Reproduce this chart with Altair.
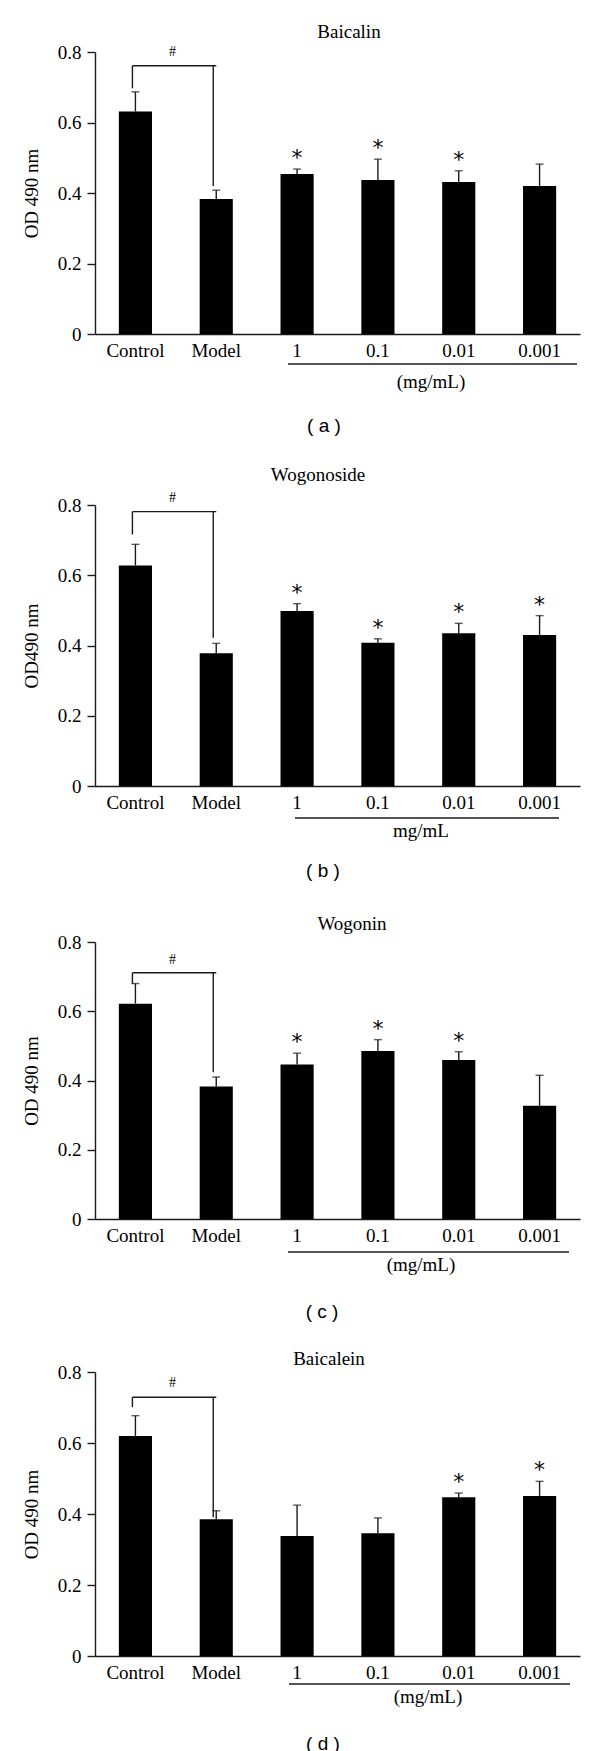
import altair as alt
import pandas as pd

# ---------------- data ----------------
categories = ["Control", "Model", "1", "0.1", "0.01", "0.001"]

panel_titles = ["Baicalin", "Wogonoside", "Wogonin", "Baicalein"]
panel_letters = ["( a )", "( b )", "( c )", "( d )"]
y_titles = ["OD 490 nm", "OD490 nm", "OD 490 nm", "OD 490 nm"]
unit_labels = ["(mg/mL)", "mg/mL", "(mg/mL)", "(mg/mL)"]

baicalin_mean = [0.631, 0.383, 0.454, 0.437, 0.431, 0.420]
baicalin_sd = [0.056, 0.025, 0.014, 0.059, 0.032, 0.062]
baicalin_star = [False, False, True, True, True, False]

wogonoside_mean = [0.628, 0.378, 0.498, 0.408, 0.435, 0.430]
wogonoside_sd = [0.060, 0.028, 0.021, 0.011, 0.028, 0.055]
wogonoside_star = [False, False, True, True, True, True]

wogonin_mean = [0.622, 0.383, 0.446, 0.485, 0.459, 0.327]
wogonin_sd = [0.058, 0.027, 0.033, 0.033, 0.024, 0.088]
wogonin_star = [False, False, True, True, True, False]

baicalein_mean = [0.620, 0.385, 0.338, 0.346, 0.447, 0.451]
baicalein_sd = [0.057, 0.024, 0.087, 0.043, 0.012, 0.041]
baicalein_star = [False, False, False, False, True, True]

# bracket (Control vs Model): level, left end, right end, "#" level
bracket_level = [0.761, 0.781, 0.711, 0.729]
bracket_left_end = [0.697, 0.716, 0.680, 0.701]
bracket_right_end = [0.420, 0.422, 0.424, 0.391]
hash_level = [0.800, 0.820, 0.747, 0.770]

# ---------------- layout / style ----------------
W = 485
heights = [282, 281, 277, 284]
SERIF = "Liberation Serif"
SANS = "Liberation Sans"
INK = "#1a1a1a"

# positions of the annotation texts, relative to each plot's top-left corner
title_xy = [(254, -20), (223, -30), (257, -18), (234, -13)]
unit_xy = [(336, 330), (326, 326), (326, 323), (333, 325)]
underline_x = [(193, 482), (200, 464), (193, 474), (194, 475)]
underline_y = [312, 313, 310, 312]
letter_xy = [(229, 374), (228, 366), (227, 370), (228, 372)]
# extent of every panel's frame (above / below the plot top)
frame_top = 43
frame_bottom = [408, 392, 385, 384]

series = [
    (baicalin_mean, baicalin_sd, baicalin_star),
    (wogonoside_mean, wogonoside_sd, wogonoside_star),
    (wogonin_mean, wogonin_sd, wogonin_star),
    (baicalein_mean, baicalein_sd, baicalein_star),
]


def make_panel(i):
    means, sds, stars = series[i]
    df = pd.DataFrame({
        "group": categories,
        "mean": means,
        "top": [m + s for m, s in zip(means, sds)],
        "star": ["*" if s else "" for s in stars],
    })

    xscale = alt.Scale(domain=categories, paddingInner=0.59, paddingOuter=0.295)
    xaxis = alt.Axis(title=None, labelAngle=0, ticks=False, domain=True,
                     domainColor=INK, domainWidth=1.4, labelFont=SERIF,
                     labelFontSize=19, labelColor="black", labelPadding=7)
    yscale = alt.Scale(domain=[0, 0.8], nice=False, zero=True)
    yaxis = alt.Axis(title=y_titles[i], values=[0, 0.2, 0.4, 0.6, 0.8],
                     format="~g", grid=False, tickSize=8, tickWidth=1.4,
                     tickColor=INK, domainColor=INK, domainWidth=1.4,
                     labelFont=SERIF, labelFontSize=19, labelColor="black",
                     labelPadding=6, titleFont=SERIF, titleFontSize=19,
                     titleFontWeight="normal", titleColor="black",
                     titleX=-64, titleBaseline="middle")

    def X(field):
        return alt.X(field, type="nominal", scale=xscale, axis=xaxis)

    def Y(field):
        return alt.Y(field, type="quantitative", scale=yscale, axis=yaxis)

    base = alt.Chart(df)
    bars = base.mark_bar(color="black").encode(x=X("group"), y=Y("mean"))
    err = base.mark_rule(color=INK, strokeWidth=1.4).encode(
        x=X("group"), y=Y("mean"), y2="top")
    caps = base.mark_tick(color=INK, size=8, thickness=1.4,
                          orient="horizontal").encode(x=X("group"), y=Y("top"))
    star_txt = base.mark_text(font="DejaVu Sans", fontSize=22, baseline="alphabetic",
                              dy=-4, color="black").encode(
        x=X("group"), y=Y("top"), text="star:N")

    br = pd.DataFrame({
        "a": ["Control"], "b": ["Model"],
        "level": [bracket_level[i]], "lend": [bracket_left_end[i]],
        "rend": [bracket_right_end[i]], "hash": [hash_level[i]],
        "sym": ["#"],
    })
    bbase = alt.Chart(br)
    b_h = bbase.mark_rule(color=INK, strokeWidth=1.4, xOffset=-3).encode(
        x=X("a"), x2="b", y=Y("level"))
    b_l = bbase.mark_rule(color=INK, strokeWidth=1.4, xOffset=-3).encode(
        x=X("a"), y=Y("level"), y2="lend")
    b_r = bbase.mark_rule(color=INK, strokeWidth=1.4, xOffset=-3).encode(
        x=X("b"), y=Y("level"), y2="rend")
    b_txt = bbase.mark_text(font=SERIF, fontSize=14, baseline="middle",
                            dx=37, color="black").encode(
        x=X("a"), y=Y("hash"), text="sym:N")

    one = alt.Chart(pd.DataFrame({"unit": [unit_labels[i]],
                                  "letter": [panel_letters[i]],
                                  "title": [panel_titles[i]]}))
    frame = one.mark_rule(color="white", strokeWidth=1).encode(
        x=alt.value(-86), y=alt.value(-frame_top), y2=alt.value(frame_bottom[i]))
    title_txt = one.mark_text(font=SERIF, fontSize=19, baseline="middle",
                              color="black").encode(
        x=alt.value(title_xy[i][0]), y=alt.value(title_xy[i][1]), text="title:N")
    underline = one.mark_rule(color=INK, strokeWidth=1.4).encode(
        x=alt.value(underline_x[i][0]), x2=alt.value(underline_x[i][1]),
        y=alt.value(underline_y[i]))
    unit_txt = one.mark_text(font=SERIF, fontSize=19, baseline="middle",
                             color="black").encode(
        x=alt.value(unit_xy[i][0]), y=alt.value(unit_xy[i][1]), text="unit:N")
    letter_txt = one.mark_text(font=SANS, fontSize=19, baseline="middle",
                               color="black").encode(
        x=alt.value(letter_xy[i][0]), y=alt.value(letter_xy[i][1]), text="letter:N")

    layer = alt.layer(frame, bars, err, caps, star_txt, b_h, b_l, b_r, b_txt,
                      title_txt, underline, unit_txt, letter_txt).properties(
        width=W, height=heights[i],
    )
    return layer


chart = alt.vconcat(*[make_panel(i) for i in range(4)], spacing=0).properties(
    padding={"left": 0, "top": 0, "right": 0, "bottom": 0},
    background="white",
).configure_view(stroke="transparent")

chart.save("out.html", embed_options={"renderer": "svg", "actions": False})
